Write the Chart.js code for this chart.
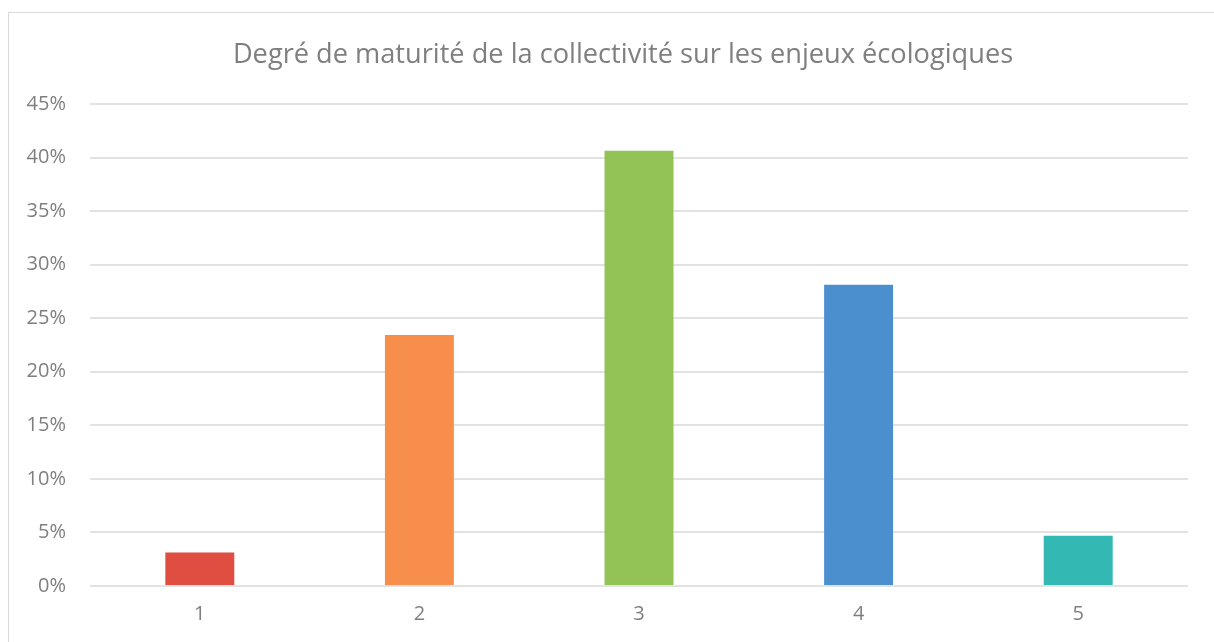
<!DOCTYPE html>
<html>
<head>
<meta charset="utf-8">
<script src="https://cdn.jsdelivr.net/npm/chart.js@4/dist/chart.umd.min.js"></script>
<style>
  html, body { margin: 0; padding: 0; background: #fff; overflow: hidden; width: 1214px; height: 642px; }
  #frame { position: absolute; left: 8px; top: 12px; width: 1230px; height: 660px; border: 1px solid #d9d9d9; box-sizing: border-box; }
  #wrap { position: absolute; left: 8px; top: 12px; width: 1230px; height: 640px; }
</style>
</head>
<body>
<div id="frame"></div>
<div id="wrap"><canvas id="c" width="1230" height="640"></canvas></div>
<script>
const categories = ["1", "2", "3", "4", "5"];
const values = [3.125, 23.44, 40.63, 28.13, 4.69];
const barColors = ["#E04D41", "#F78E4B", "#93C356", "#4B8FCE", "#33B8B4"];
const titleText = "Degré de maturité de la collectivité sur les enjeux écologiques";
const yMin = 0, yMax = 45, yStep = 5;

const grey = "#7f7f7f";
new Chart(document.getElementById("c"), {
  type: "bar",
  data: {
    labels: categories,
    datasets: [{
      data: values,
      backgroundColor: barColors,
      borderWidth: 0,
      categoryPercentage: 1,
      barPercentage: 0.314
    }]
  },
  options: {
    responsive: false,
    animation: false,
    layout: { padding: { left: 0, right: 0, top: 0, bottom: 0 } },
    plugins: {
      legend: { display: false },
      tooltip: { enabled: false },
      title: {
        display: true,
        text: titleText,
        color: grey,
        font: { family: "'Open Sans', sans-serif", size: 27.2, weight: "normal" },
        padding: { top: 27, bottom: 32.4 }
      }
    },
    scales: {
      x: {
        grid: { display: false, drawTicks: false },
        border: { display: false },
        ticks: { color: grey, font: { family: "'Open Sans', sans-serif", size: 20 }, padding: 16 },
        afterFit: (s) => { s.height = 66; }
      },
      y: {
        min: yMin, max: yMax,
        grid: { color: "#e2e2e2", lineWidth: 2, drawTicks: false },
        border: { display: false },
        ticks: {
          stepSize: yStep,
          color: grey,
          padding: 24,
          font: { family: "'Open Sans', sans-serif", size: 20 },
          callback: (v) => v + "%"
        },
        afterFit: (s) => { s.width = 82; }
      },
      yRight: {
        position: "right",
        display: true,
        min: yMin, max: yMax,
        grid: { display: false, drawTicks: false },
        border: { display: false },
        ticks: { display: false },
        afterFit: (s) => { s.width = 50; }
      }
    }
  }
});
</script>
</body>
</html>
